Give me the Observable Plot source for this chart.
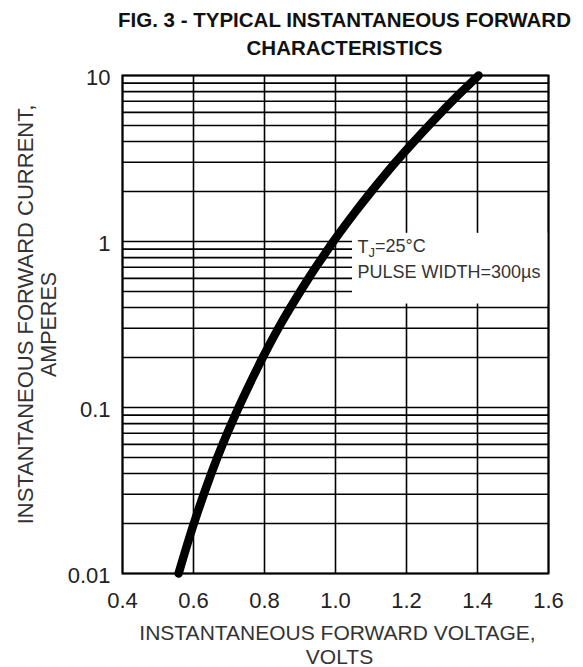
<!DOCTYPE html>
<html>
<head>
<meta charset="utf-8">
<script src="https://cdn.jsdelivr.net/npm/d3@7"></script>
<script src="https://cdn.jsdelivr.net/npm/@observablehq/plot@0.6"></script>
<style>
  html, body { margin: 0; padding: 0; background: #fff; }
  #chart { width: 583px; height: 667px; }
</style>
</head>
<body>
<div id="chart"></div>
<script>
// ---- data ----
const voltage = [0.558, 0.601, 0.650, 0.682, 0.727, 0.766, 0.795, 0.839, 0.873, 0.924, 0.963, 0.994, 1.055, 1.101, 1.169, 1.221, 1.298, 1.356, 1.403];
const current = [0.01, 0.02, 0.04, 0.06, 0.1, 0.15, 0.2, 0.3, 0.4, 0.6, 0.8, 1.0, 1.5, 2.0, 3.0, 4.0, 6.0, 8.0, 10];

const xTicks = [0.4, 0.6, 0.8, 1.0, 1.2, 1.4, 1.6];
const xTickLabels = ["0.4", "0.6", "0.8", "1.0", "1.2", "1.4", "1.6"];
const yTicks = [0.01, 0.1, 1, 10];
const yTickLabels = ["0.01", "0.1", "1", "10"];

// log-grid lines 1..9 per decade
const decades = [0.01, 0.1, 1];
const multipliers = [1, 2, 3, 4, 5, 6, 7, 8, 9];
const gridY = decades.flatMap(d => multipliers.map(m => +(d * m).toPrecision(3))).concat([10]);

const titleLines = ["FIG. 3 - TYPICAL INSTANTANEOUS FORWARD", "CHARACTERISTICS"];
const xLabelLines = ["INSTANTANEOUS FORWARD VOLTAGE,", "VOLTS"];
const yLabelLines = ["INSTANTANEOUS FORWARD CURRENT,", "AMPERES"];
const noteLines = ["TJ=25°C", "PULSE WIDTH=300µs"];

// annotation box (blank area behind the note), in data units
const noteBox = {x1: 1.048, x2: 1.6, y1: 0.42, y2: 1.12};
const noteAnchor = {x: 1.062, y: [0.92, 0.65]};

const data = voltage.map((v, i) => ({v, i: current[i]}));
const font = "'Liberation Sans', Arial, Helvetica, sans-serif";
const xFmt = d => xTickLabels[xTicks.findIndex(t => Math.abs(t - d) < 1e-9)];
const yFmt = d => yTickLabels[yTicks.findIndex(t => Math.abs(t - d) < 1e-12)];

const chart = Plot.plot({
  width: 583,
  height: 667,
  marginLeft: 122,
  marginRight: 35,
  marginTop: 75,
  marginBottom: 94,
  style: {fontFamily: font, background: "#fff", color: "#000", overflow: "visible"},
  x: {domain: [0.4, 1.6]},
  y: {type: "log", domain: [0.01, 10]},
  marks: [
    Plot.ruleY(gridY, {stroke: "#000", strokeWidth: 1.6}),
    Plot.ruleX(xTicks, {stroke: "#000", strokeWidth: 1.6}),
    Plot.rect([noteBox], {x1: "x1", x2: "x2", y1: "y1", y2: "y2", fill: "#fff"}),
    Plot.frame({stroke: "#000", strokeWidth: 2}),
    Plot.line(data, {x: "v", y: "i", stroke: "#000", strokeWidth: 8.5, curve: "catmull-rom", strokeLinecap: "round"}),
    Plot.axisX(xTicks, {tickSize: 0, tickPadding: 19, fontSize: 22, tickFormat: xFmt, label: null, fill: "#222"}),
    Plot.axisY(yTicks, {tickSize: 0, tickPadding: 12, fontSize: 22, tickFormat: yFmt, label: null, fill: "#222", dy: 2}),
    Plot.text([noteLines[0]], {x: () => noteAnchor.x, y: () => noteAnchor.y[0], text: d => d, textAnchor: "start", fontSize: 18, fill: "#333"}),
    Plot.text([noteLines[1]], {x: () => noteAnchor.x, y: () => noteAnchor.y[1], text: d => d, textAnchor: "start", fontSize: 18, fill: "#333"}),
    Plot.text([titleLines[0]], {frameAnchor: "top", text: d => d, dy: -63, dx: 9, fontSize: 20.5, fontWeight: "bold", fill: "#111"}),
    Plot.text([titleLines[1]], {frameAnchor: "top", text: d => d, dy: -35, dx: 9, fontSize: 20.5, fontWeight: "bold", fill: "#111"}),
    Plot.text([xLabelLines[0]], {frameAnchor: "bottom", text: d => d, dy: 66, dx: 2, fontSize: 21, fill: "#333"}),
    Plot.text([xLabelLines[1]], {frameAnchor: "bottom", text: d => d, dy: 90, dx: 4, fontSize: 21, fill: "#333"}),
    Plot.text([yLabelLines[0]], {frameAnchor: "left", text: d => d, rotate: -90, textAnchor: "middle", lineAnchor: "middle", dx: -97, dy: -10, fontSize: 22, fill: "#333"}),
    Plot.text([yLabelLines[1]], {frameAnchor: "left", text: d => d, rotate: -90, textAnchor: "middle", lineAnchor: "middle", dx: -73, dy: 0, fontSize: 21.5, fill: "#333"})
  ]
});

// subscript J in the junction-temperature note
d3.select(chart).selectAll("text").filter(function () { return this.textContent === noteLines[0]; })
  .each(function () {
    const t = d3.select(this);
    t.text(null);
    t.append("tspan").text("T");
    t.append("tspan").attr("dy", "0.25em").attr("font-size", "0.72em").text("J");
    t.append("tspan").attr("dy", "-0.25em").text("=25°C");
  });

document.getElementById("chart").appendChild(chart);
</script>
</body>
</html>
